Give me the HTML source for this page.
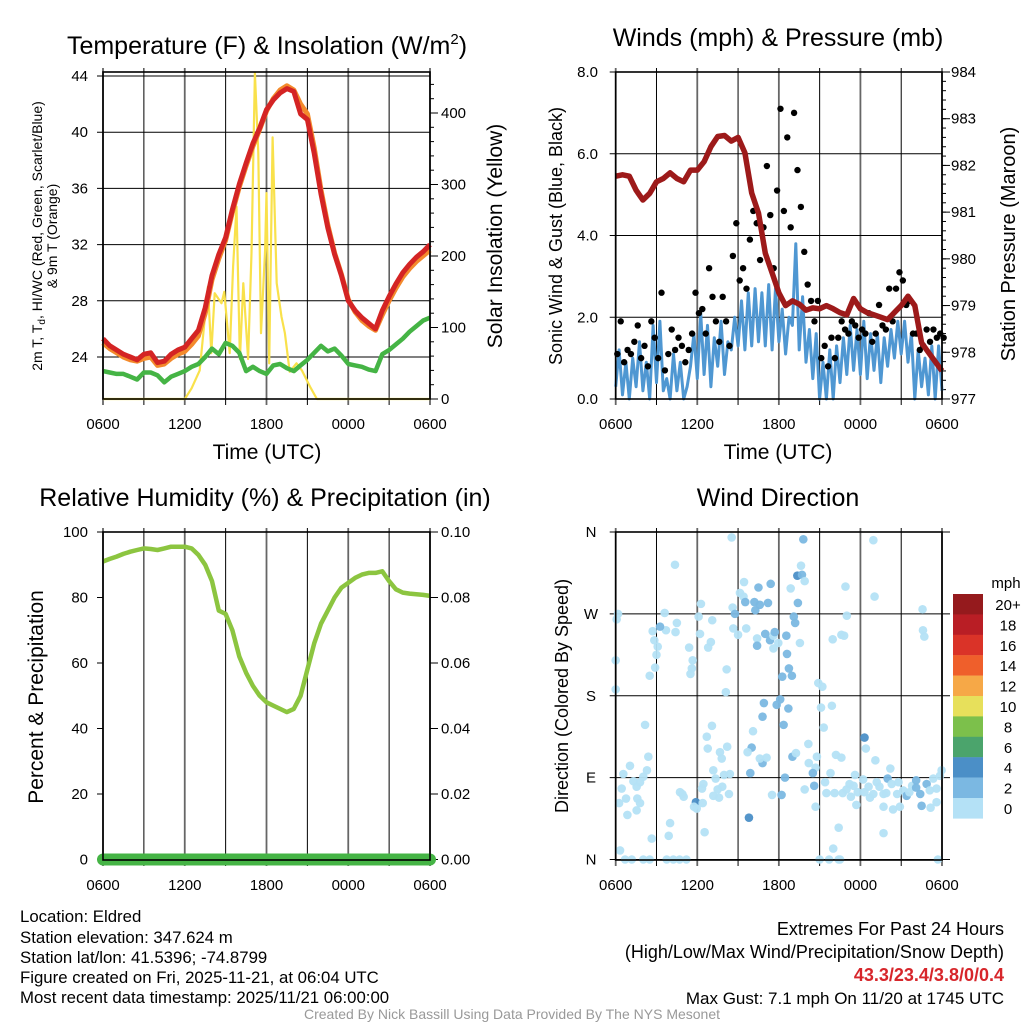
<!DOCTYPE html>
<html><head><meta charset="utf-8"><style>
html,body{margin:0;padding:0;background:#fff;}
svg{display:block;font-family:"Liberation Sans",sans-serif;}
</style></head><body>
<svg id="chart" width="1024" height="1024" viewBox="0 0 1024 1024">
<rect x="0" y="0" width="1024" height="1024" fill="#fff"/>
<g id="grids"></g>
<g id="marks"></g>
<g id="frames"></g>
<g font-size="25" text-anchor="middle" fill="#000">
<text x="267" y="54">Temperature (F) &amp; Insolation (W/m<tspan font-size="15" dy="-10">2</tspan><tspan dy="10">)</tspan></text>
<text x="778" y="46">Winds (mph) &amp; Pressure (mb)</text>
<text x="265" y="506">Relative Humidity (%) &amp; Precipitation (in)</text>
<text x="778" y="506">Wind Direction</text>
</g>
<g font-size="21" text-anchor="middle">
<text x="267" y="459">Time (UTC)</text>
<text x="778" y="459">Time (UTC)</text>
<text transform="translate(502,236) rotate(-90)">Solar Insolation (Yellow)</text>
<text transform="translate(1015,244) rotate(-90)" font-size="20">Station Pressure (Maroon)</text>
<text transform="translate(43,697) rotate(-90)">Percent &amp; Precipitation</text>
</g>
<g font-size="18" text-anchor="middle">
<text transform="translate(562,236) rotate(-90)">Sonic Wind &amp; Gust (Blue, Black)</text>
<text transform="translate(568,696) rotate(-90)">Direction (Colored By Speed)</text>
</g>
<g font-size="14" text-anchor="middle">
<text transform="translate(42,236) rotate(-90)">2m T, T<tspan font-size="10" dy="3">d</tspan><tspan dy="-3">, HI/WC (Red, Green, Scarlet/Blue)</tspan></text>
<text transform="translate(57,236) rotate(-90)">&amp; 9m T (Orange)</text>
</g>
<g id="ticklabels" font-size="15" fill="#000"></g>
<g>
<text x="1006" y="588" font-size="15" text-anchor="middle">mph</text>
<g id="cbar"></g>
</g>
<g font-size="16.8" fill="#000">
<text x="20" y="922">Location: Eldred</text>
<text x="20" y="943">Station elevation: 347.624 m</text>
<text x="20" y="963">Station lat/lon: 41.5396; -74.8799</text>
<text x="20" y="983">Figure created on Fri, 2025-11-21, at 06:04 UTC</text>
<text x="20" y="1003">Most recent data timestamp: 2025/11/21 06:00:00</text>
</g>
<g font-size="18" fill="#000" text-anchor="end">
<text x="1004" y="935">Extremes For Past 24 Hours</text>
<text x="1004" y="958">(High/Low/Max Wind/Precipitation/Snow Depth)</text>
<text x="1004" y="981" fill="#d7262b" font-weight="bold">43.3/23.4/3.8/0/0.4</text>
<text x="1004" y="1004" font-size="17">Max Gust: 7.1 mph On 11/20 at 1745 UTC</text>
</g>
<text x="512" y="1019" font-size="14" fill="#999" text-anchor="middle">Created By Nick Bassill Using Data Provided By The NYS Mesonet</text>
</svg>
<script>
// ---- data ----
const timeLabels = ["0600","1200","1800","0000","0600"];
const halfHours = [];
for (let i = 0; i <= 48; i++) halfHours.push(i * 0.5);
const tempRed = [25.3,24.8,24.5,24.2,24.0,23.8,24.2,24.3,23.6,23.7,24.2,24.5,24.7,25.3,25.9,27.5,29.8,31.3,32.5,34.5,36.3,37.8,39.2,40.3,41.6,42.3,42.8,43.1,42.9,41.3,40.9,38.5,35.6,33.2,31.3,29.8,28.0,27.3,26.8,26.4,26.0,27.3,28.3,29.2,30.0,30.6,31.1,31.5,32.0];
const tempOrange = [25.0,24.6,24.3,24.0,23.8,23.7,23.9,24.0,23.4,23.5,23.9,24.2,24.4,24.9,25.5,27.1,29.5,31.0,32.3,34.3,36.1,37.6,39.0,40.2,41.5,42.4,43.0,43.3,43.0,42.0,41.3,38.9,35.9,33.4,31.4,29.9,28.1,27.2,26.6,26.2,25.9,27.0,28.0,28.9,29.7,30.3,30.8,31.2,31.6];
const dewGreen = [23.0,22.9,22.8,22.8,22.6,22.4,22.9,22.9,22.7,22.2,22.6,22.8,23.0,23.3,23.5,24.0,24.6,24.2,25.0,24.8,24.3,23.0,23.3,23.0,22.8,23.4,23.5,23.2,23.0,23.4,23.8,24.3,24.8,24.4,24.6,24.1,23.5,23.4,23.3,23.1,23.0,24.2,24.5,24.9,25.3,25.8,26.2,26.6,26.8];
const solarTimes = [0,6.0,6.5,7.1,7.7,7.95,8.2,8.7,8.9,9.3,9.55,9.8,10.05,10.3,10.65,10.9,11.15,11.4,11.6,11.9,12.0,12.2,12.45,12.75,13.1,13.35,13.7,14.2,14.6,15.2,15.7,24];
const solarValues = [0,0,15,40,157,64,148,134,150,64,185,269,56,162,56,204,456,344,92,208,288,50,366,162,115,92,38,50,40,17,0,0];
const windSpeed = [0.3,1.2,0.1,0.9,0.0,1.0,0.3,1.4,0.2,0.9,0.0,1.8,0.4,1.9,0.2,0.5,0.0,1.1,0.2,0.9,0.0,0.3,0.8,1.6,0.5,2.1,0.6,1.8,0.3,1.5,0.8,1.9,0.6,1.4,1.2,2.0,1.3,2.4,1.2,2.6,1.3,2.7,1.4,2.6,1.3,2.8,1.2,2.7,1.4,2.2,1.1,2.0,1.8,3.8,1.2,2.5,0.9,1.7,0.5,1.6,0.0,0.9,0.0,1.2,0.0,1.3,0.4,1.5,0.6,1.8,0.7,1.7,0.6,1.9,0.5,1.6,0.7,1.6,0.4,1.5,0.8,1.7,1.0,1.9,1.1,1.9,0.9,1.6,0.0,1.2,0.3,1.0,0.1,1.3,0.0,1.3,0.2];
const windGust = [1.1,1.9,0.9,1.2,1.1,1.4,1.8,1.0,1.3,0.8,1.9,1.5,1.0,2.6,0.7,1.1,1.7,1.2,1.5,1.3,0.9,1.2,1.6,2.6,2.1,2.2,1.6,3.2,2.5,1.9,1.4,2.5,1.9,1.3,3.5,4.3,2.9,3.2,2.7,3.9,4.6,4.3,3.4,4.2,5.7,4.5,3.2,5.1,7.1,4.6,6.4,4.2,7.0,5.6,4.7,3.6,2.8,2.4,1.9,2.4,1.0,1.3,0.8,1.5,1.0,1.5,1.9,1.7,1.6,1.9,1.8,1.5,1.7,1.6,2.1,1.4,1.6,2.3,1.8,1.7,2.7,1.9,2.7,3.1,2.9,2.3,2.4,1.6,1.6,1.2,1.3,1.7,1.4,1.7,1.5,1.6,1.5];
const pressure = [981.77,981.8,981.77,981.47,981.26,981.4,981.65,981.72,981.84,981.72,981.65,981.9,981.9,982.08,982.4,982.62,982.64,982.52,982.6,982.27,981.41,980.98,980.12,979.7,979.27,979.0,979.1,979.03,978.9,978.95,978.93,979.0,978.93,978.85,978.8,979.15,978.93,978.85,978.8,978.75,978.7,978.85,979.0,979.2,979.0,978.2,978.0,977.8,977.6];
const rhValues = [91,91.8,92.5,93.3,94,94.5,95,94.8,94.5,95,95.5,95.5,95.5,95,93,90,85,76,75,70,62,57,53,50,48,47,46,45,46,50,58,66,72,76,80,83,84.5,86,87,87.5,87.5,88,85,82.5,81.5,81.2,81,80.8,80.5];
const precipValues = [0,0,0,0,0,0,0,0,0,0,0,0,0,0,0,0,0,0,0,0,0,0,0,0,0,0,0,0,0,0,0,0,0,0,0,0,0,0,0,0,0,0,0,0,0,0,0,0,0];
const dirTimes = [8.53,13.8,18.95,4.36,13.36,13.63,13.7,13.9,9.44,10.5,11.4,12.87,16.9,19.04,9.14,9.4,9.53,10.2,10.6,11.2,10.27,13.4,13.1,13.2,6.27,8.6,8.77,22.57,0.17,0.07,3.6,3.7,3.26,2.72,2.84,3.09,3.0,2.9,2.5,4.5,4.4,6.1,6.2,7.1,7.0,6.8,5.4,5.66,5.6,5.5,8.16,8.1,8.65,9.0,9.6,10.4,10.4,11.0,11.35,11.6,11.7,11.96,11.6,12.55,12.6,12.74,12.25,12.96,13.55,15.96,16.6,16.8,17.0,22.6,22.7,0.0,0.0,14.9,15.2,15.1,15.9,15.3,2.16,2.4,2.3,0.56,1.05,0.44,0.25,0.76,0.86,1.54,1.79,1.59,1.79,1.54,1.3,2.03,4.73,5.0,4.9,5.9,5.76,5.96,6.4,4.0,3.9,2.65,0.32,0.69,1.18,2.03,2.5,3.75,4.24,4.7,5.2,6.7,6.77,7.08,7.18,7.35,7.67,7.8,8.2,7.97,8.4,7.84,7.5,7.18,7.6,8.33,6.54,6.45,6.35,10.1,10.0,9.7,9.9,9.8,10.8,10.6,10.9,10.8,11.1,11.84,12.1,12.7,12.35,13.0,13.26,14.17,14.2,14.8,14.7,14.5,14.6,13.9,12.45,12.2,11.5,14.7,15.4,15.5,15.8,16.1,16.2,16.6,16.4,16.0,15.0,15.7,16.4,16.5,16.7,16.98,17.3,17.2,17.6,17.5,17.7,17.8,18.2,18.3,18.4,18.3,18.6,18.7,19.1,18.95,19.2,19.4,19.7,19.9,20.2,20.0,20.3,19.7,20.4,20.9,19.7,20.8,20.7,21.15,21.4,21.6,21.8,22.1,22.1,22.4,22.5,22.87,23.1,23.36,23.6,23.6,23.16,23.97,23.85,23.7];
const dirDegrees = [354,352,351,324,312,323,313,306,305,299,303,298,300,289,293,289,283,283,280,282,274,282,267,260,281,277,270,275,270,264,271,252,256,251,241,234,225,211,202,260,250,267,248,263,239,233,233,219,210,204,209,184,254,247,254,243,235,248,241,246,250,238,232,246,226,210,201,202,238,242,247,246,268,252,245,219,187,194,190,167,169,145,148,113,98,94,103,78,62,67,49,80,85,67,62,54,86,91,74,69,72,63,58,56,62,40,26,23,10,0,0,0,0,0,0,0,0,135,122,147,98,89,118,111,124,93,94,80,77,70,68,72,30,83,78,141,123,118,95,46,106,111,172,157,112,170,176,166,148,113,117,127,106,113,101,95,81,77,90,71,71,58,85,73,95,73,115,112,35,12,0,0,0,0,73,77,69,83,93,81,60,74,88,134,122,74,80,68,109,72,85,80,72,73,100,89,83,58,55,58,29,85,72,76,70,74,81,87,79,72,59,83,76,89,78,63,57,98,92,0];
const dirSpeeds = [1,3,1,1,5,1,3,1,1,3,3,1,1,1,1,1,3,3,3,3,3,3,3,3,1,1,3,1,1,1,1,1,3,1,1,1,1,1,1,1,1,1,1,1,1,1,1,1,1,1,1,1,1,1,1,1,3,3,3,1,3,1,1,3,3,3,3,3,1,1,1,1,1,1,1,1,1,1,1,1,1,1,1,1,1,1,1,1,1,1,1,1,1,1,1,1,1,1,1,1,1,5,1,1,1,1,1,1,1,1,1,1,1,1,1,1,1,1,1,1,1,1,1,1,1,1,1,1,1,1,1,1,1,1,1,1,3,1,3,5,3,1,3,3,1,3,3,3,3,3,1,1,1,1,1,3,3,1,3,3,1,1,1,1,1,1,1,1,1,1,1,1,1,1,1,1,1,1,1,1,1,1,1,4,1,1,1,1,1,1,1,1,1,1,1,3,1,1,1,1,1,1,1,1,3,1,1,3,3,3,3,3,1,1,1,1,1,1,1,1,1,1,1];
const tempTicks = [24,28,32,36,40,44];
const solarTicks = [0,100,200,300,400];
const windTicks = [0,2,4,6,8];
const pressTicks = [977,978,979,980,981,982,983,984];
const rhTicks = [0,20,40,60,80,100];
const precipTicks = ["0.00","0.02","0.04","0.06","0.08","0.10"];
const dirTicks = [0,90,180,270,360];
const dirTickLabels = ["N","E","S","W","N"];
const cbarLabels = ["20+","18","16","14","12","10","8","6","4","2","0"];
const cbarColors = ["#951a1d","#b91e25","#da3328","#ef5f2b","#f6a847","#e7e05b","#7cc04b","#4ba46c","#4b8fc7","#7bb8e2","#b4e1f6"];

// ---- scales ----
const NS = "http://www.w3.org/2000/svg";
const L = {x0:103, x1:430}, R = {x0:615.7, x1:942};
const xL = t => L.x0 + t * (L.x1 - L.x0) / 24;
const xR = t => R.x0 + t * (R.x1 - R.x0) / 24;
const yTemp = v => 76 + (44 - v) * 14.05;
const ySolar = v => 399 - v * 0.715;
const yWind = v => 399 - v * 40.875;
const yPress = v => 72 + (984 - v) * 46.71;
const yRH = v => 859.5 - v * 3.275;
const yPrecip = v => 859.5 - v * 3275;
const yDir = v => 859.5 - v * 0.9097;

function mk(tag, attrs, parent) {
  const el = document.createElementNS(NS, tag);
  for (const k in attrs) el.setAttribute(k, attrs[k]);
  parent.appendChild(el);
  return el;
}
const G = document.getElementById('grids');
const M = document.getElementById('marks');
const F = document.getElementById('frames');
const T = document.getElementById('ticklabels');

function pathFrom(xs, ys) {
  return xs.map((x, i) => (i ? 'L' : 'M') + x.toFixed(1) + ',' + ys[i].toFixed(1)).join('');
}

function panelFrame(x0, x1, y0, y1, name) {
  const r = mk('rect', {x:x0, y:y0, width:x1 - x0, height:y1 - y0, fill:'none', stroke:'#000', 'stroke-width':1.6}, F);
  
  
}
function vGrid(xf, y0, y1, name) {
  for (let i = 0; i <= 8; i++) {
    const x = xf(i * 3);
    const ln = mk('line', {x1:x, x2:x, y1:y0 - 4, y2:y1 + 6, stroke:i % 2 ? '#000' : '#666', 'stroke-width':i % 2 ? 1 : 1.8}, G);
    
    
  }
}
function hGrid(vals, yf, x0, x1, name) {
  vals.forEach(v => {
    const y = yf(v);
    const ln = mk('line', {x1:x0 - 6, x2:x1, y1:y, y2:y, stroke:'#000', 'stroke-width':1}, G);
    
    
  });
}
function xLabels(xf, y) {
  timeLabels.forEach((lab, i) => {
    const t = mk('text', {x:xf(i * 6), y:y, 'text-anchor':'middle', 'font-size':15}, T);
    t.textContent = lab;
    
    
  });
}
function yLabels(vals, labs, yf, x, anchor, name) {
  vals.forEach((v, i) => {
    const t = mk('text', {x:x, y:yf(v) + 5, 'text-anchor':anchor}, T);
    t.textContent = labs[i];
    
    
  });
}
function rightTicks(vals, yf, x, len, name) {
  vals.forEach(v => {
    const ln = mk('line', {x1:x, x2:x + len, y1:yf(v), y2:yf(v), stroke:'#000', 'stroke-width':1}, G);
    
    
  });
}

// ---- panel 1: temperature ----
vGrid(xL, 72, 399, 'temp-v-gridline');
hGrid(tempTicks, yTemp, L.x0, L.x1, 'temp-h-gridline');
const topLine = mk('line', {x1:L.x0, x2:L.x1, y1:72, y2:72, stroke:'#000', 'stroke-width':1}, G);


rightTicks(solarTicks, ySolar, L.x1, 8, 'solar-major-tick');
const minorSolar = [];
for (let v = 20; v <= 440; v += 20) if (v % 100) minorSolar.push(v);
rightTicks(minorSolar, ySolar, L.x1, 4, 'solar-minor-tick');
xLabels(xL, 429);
yLabels(tempTicks, tempTicks.map(String), yTemp, 88, 'end', 'temp-tick-label');
yLabels(solarTicks, solarTicks.map(String), ySolar, 441, 'start', 'solar-tick-label');
panelFrame(L.x0, L.x1, 72, 399, 'temp-panel-frame');

const solarPath = mk('path', {d:pathFrom(solarTimes.map(xL), solarValues.map(ySolar)), fill:'none', stroke:'#f9e14b', 'stroke-width':2.2, 'stroke-linejoin':'round'}, M);


const greenPath = mk('path', {d:pathFrom(halfHours.map(xL), dewGreen.map(yTemp)), fill:'none', stroke:'#45b445', 'stroke-width':4.5, 'stroke-linejoin':'round'}, M);


const orangePath = mk('path', {d:pathFrom(halfHours.map(xL), tempOrange.map(yTemp)), fill:'none', stroke:'#f38a2c', 'stroke-width':5, 'stroke-linejoin':'round'}, M);


const redPath = mk('path', {d:pathFrom(halfHours.map(xL), tempRed.map(yTemp)), fill:'none', stroke:'#d42424', 'stroke-width':5, 'stroke-linejoin':'round'}, M);



// ---- panel 2: winds ----
vGrid(xR, 72, 399, 'wind-v-gridline');
hGrid(windTicks, yWind, R.x0, R.x1, 'wind-h-gridline');
rightTicks(pressTicks, yPress, R.x1, 8, 'pressure-major-tick');
const minorP = [];
for (let v = 977.2; v < 984; v += 0.2) minorP.push(v);
rightTicks(minorP, yPress, R.x1, 4, 'pressure-minor-tick');
xLabels(xR, 429);
yLabels(windTicks, windTicks.map(v => v.toFixed(1)), yWind, 598, 'end', 'wind-tick-label');
yLabels(pressTicks, pressTicks.map(String), yPress, 951, 'start', 'pressure-tick-label');
panelFrame(R.x0, R.x1, 72, 399, 'wind-panel-frame');

const qTimes = windSpeed.map((v, i) => i * 0.25);
const windPath = mk('path', {d:pathFrom(qTimes.map(xR), windSpeed.map(yWind)), fill:'none', stroke:'#4f97d2', 'stroke-width':3, 'stroke-linejoin':'round'}, M);


windGust.forEach((g, i) => {
  const c = mk('circle', {cx:xR(i * 0.25 + 0.12), cy:yWind(g), r:3.2, fill:'#000'}, M);
  
  
});
const pressPath = mk('path', {d:pathFrom(halfHours.map(xR), pressure.map(yPress)), fill:'none', stroke:'#9d1a1a', 'stroke-width':5.5, 'stroke-linejoin':'round'}, M);



// ---- panel 3: RH ----
vGrid(xL, 532, 860, 'rh-v-gridline');
rhTicks.forEach(v => {
  const ln = mk('line', {x1:L.x0 - 6, x2:L.x0, y1:yRH(v), y2:yRH(v), stroke:'#000'}, G);
  
  
});
rightTicks(rhTicks, yRH, L.x1, 8, 'precip-tick');
xLabels(xL, 890);
yLabels(rhTicks, rhTicks.map(String), yRH, 88, 'end', 'rh-tick-label');
yLabels(precipTicks.map(Number), precipTicks, yPrecip, 441, 'start', 'precip-tick-label');
panelFrame(L.x0, L.x1, 532, 860, 'rh-panel-frame');
const rhPath = mk('path', {d:pathFrom(halfHours.map(xL), rhValues.map(yRH)), fill:'none', stroke:'#8cc540', 'stroke-width':4.5, 'stroke-linejoin':'round'}, M);


const prPath = mk('path', {d:pathFrom(halfHours.map(xL), precipValues.map(yPrecip)), fill:'none', stroke:'#45b445', 'stroke-width':12, 'stroke-linecap':'round'}, M);



// ---- panel 4: direction ----
vGrid(xR, 532, 860, 'dir-v-gridline');
hGrid(dirTicks, yDir, R.x0, R.x1 + 8, 'dir-h-gridline');
xLabels(xR, 890);
yLabels(dirTicks, dirTickLabels, yDir, 591, 'middle', 'dir-tick-label');
panelFrame(R.x0, R.x1, 532, 860, 'dir-panel-frame');
function speedColor(s) {
  const idx = Math.min(10, Math.floor(s / 2));
  return cbarColors[10 - idx];
}
dirTimes.forEach((t, i) => {
  const c = mk('circle', {cx:xR(t), cy:yDir(dirDegrees[i]), r:4.3, fill:speedColor(dirSpeeds[i]), 'fill-opacity':0.95}, M);
  
  
});
const CB = document.getElementById('cbar');
cbarColors.forEach((col, i) => {
  const r = mk('rect', {x:953, y:594 + i * 20.4, width:30, height:20.6, fill:col}, CB);
  
  
  const t = mk('text', {x:1008, y:594 + i * 20.4 + 16, 'text-anchor':'middle', 'font-size':15}, CB);
  t.textContent = cbarLabels[i];
  
  
});
</script>
</body></html>
